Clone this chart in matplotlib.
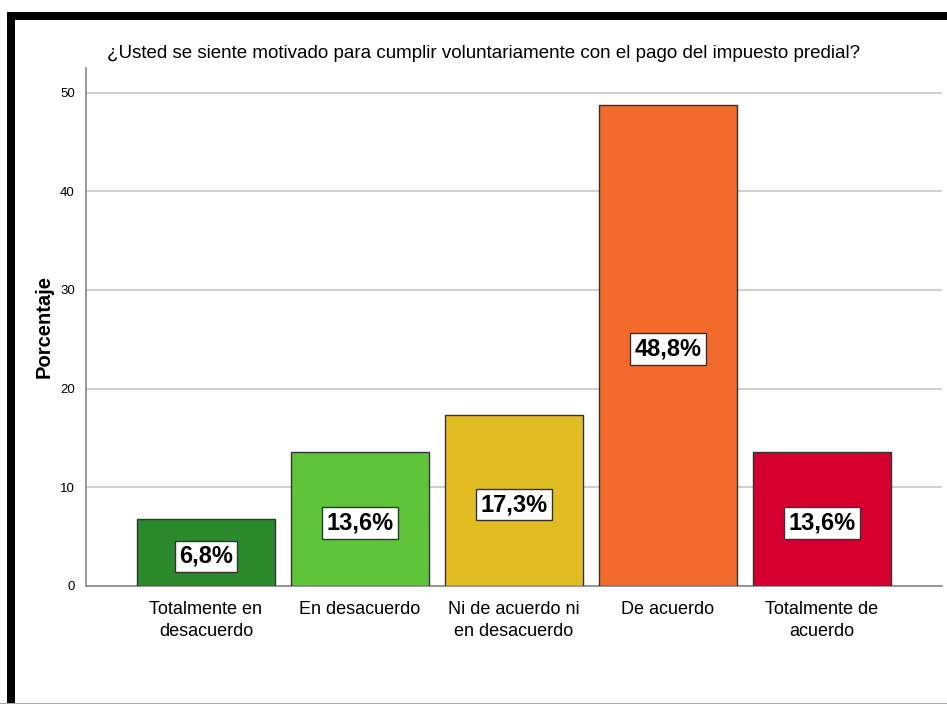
import matplotlib.pyplot as plt
from matplotlib.patches import Rectangle

categories = ['Totalmente en\ndesacuerdo', 'En desacuerdo', 'Ni de acuerdo ni\nen desacuerdo',
              'De acuerdo', 'Totalmente de\nacuerdo']
percentages = [6.8, 13.6, 17.3, 48.8, 13.6]
value_labels = ['6,8%', '13,6%', '17,3%', '48,8%', '13,6%']
colors = ['#2a8a2b', '#5ec53a', '#e1bd23', '#f26a2c', '#d50030']

plt.rcParams['font.family'] = ['Liberation Sans', 'DejaVu Sans']

fig = plt.figure(figsize=(9.47, 7.04), dpi=100)
ax = fig.add_axes([86 / 947, (704 - 586) / 704, (942 - 86) / 947, (586 - 68) / 704])

x = range(len(categories))
ax.bar(x, percentages, width=0.9, color=colors, edgecolor='#333333', linewidth=1.0, zorder=3)
for i, (v, lab) in enumerate(zip(percentages, value_labels)):
    ax.text(i, v / 2 - 0.4, lab, ha='center', va='center', fontsize=17, fontweight='bold', zorder=4,
            bbox=dict(boxstyle='square,pad=0.18', facecolor='white', edgecolor='#333333', linewidth=1))

ax.set_xlim(-0.779, 4.779)
ax.set_ylim(0, 52.5)
ax.set_yticks([0, 10, 20, 30, 40, 50])
ax.set_xticks(list(x))
ax.set_xticklabels(categories, fontsize=13, linespacing=1.4)
ax.tick_params(axis='x', length=0, pad=11)
ax.tick_params(axis='y', labelsize=9.5, length=0, pad=8)
ax.yaxis.grid(True, color='#d0d0d0', linewidth=1.5, zorder=0)
for s in ['top', 'right']:
    ax.spines[s].set_visible(False)
ax.spines['left'].set_color('#888888')
ax.spines['bottom'].set_color('#888888')
ax.spines['left'].set_linewidth(1.2)
ax.spines['bottom'].set_linewidth(1.2)
ax.set_ylabel('Porcentaje', fontsize=14.5, fontweight='bold')
ax.yaxis.set_label_coords((54 - 86) / 856, 0.5)

fig.text(484 / 947, 1 - 53 / 704, '¿Usted se siente motivado para cumplir voluntariamente con el pago del impuesto predial?',
         ha='center', va='center', fontsize=13.5)

# black frame at top and left, thin line at bottom
fig.patches.append(Rectangle((7 / 947, 0), 8 / 947, 1 - 12 / 704, transform=fig.transFigure,
                             facecolor='black', edgecolor='none'))
fig.patches.append(Rectangle((7 / 947, 1 - 20 / 704), 1 - 7 / 947, 8 / 704, transform=fig.transFigure,
                             facecolor='black', edgecolor='none'))
fig.patches.append(Rectangle((0, 0), 1, 1.5 / 704, transform=fig.transFigure,
                             facecolor='#aaaaaa', edgecolor='none'))

fig.savefig('out.png', dpi=100)
